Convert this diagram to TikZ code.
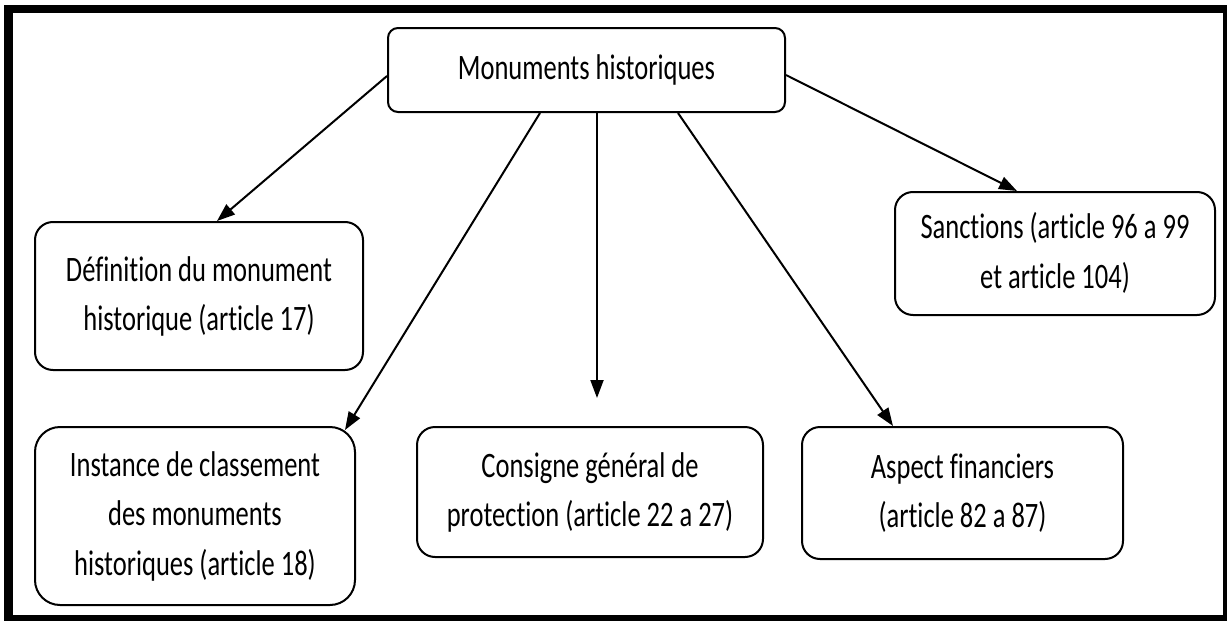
\documentclass[tikz,border=0pt]{standalone}
\usepackage{fontspec}
\setmainfont{Carlito}[Ligatures={NoCommon}]
\usetikzlibrary{arrows.meta}
\newcommand{\boxtext}[1]{\scalebox{1}[1.35]{\begin{tabular}{@{}c@{}}#1\end{tabular}}}
\begin{document}
\begin{tikzpicture}[x=1pt,y=-1pt,
  box/.style={draw, line width=2pt, rounded corners=18pt, inner sep=0pt, align=center,
    font=\fontsize{26.5}{37}\selectfont},
  arr/.style={line width=2pt, -{Triangle[length=18pt,width=13pt]}}]
% background and frame
\fill[white] (0,0) rectangle (1227,621);
\fill[black] (4,5) rectangle (1227,621);
\fill[white] (13,13) rectangle (1223,615);
\useasboundingbox (0,0) rectangle (1227,621);
% nodes
\node[box, rounded corners=10pt, minimum width=397pt, minimum height=84pt] (top) at (586.5,70) {\boxtext{Monuments historiques}};
\node[box, minimum width=328pt, minimum height=148pt] (def) at (199,296) {\boxtext{Définition du monument\\historique (article 17)}};
\node[box, minimum width=320pt, minimum height=123pt] (sanc) at (1055,253.5) {\boxtext{Sanctions (article 96 a 99\\et article 104)}};
\node[box, rounded corners=25pt, minimum width=320pt, minimum height=178pt] (inst) at (195,516) {\boxtext{Instance de classement\\des monuments\\historiques (article 18)}};
\node[box, minimum width=346pt, minimum height=130pt] (cons) at (590,492) {\boxtext{Consigne général de\\protection (article 22 a 27)}};
\node[box, minimum width=321pt, minimum height=132pt] (asp) at (962.5,493) {\boxtext{Aspect financiers\\(article 82 a 87)}};
\coordinate (vend) at (597,398);
% connectors
\draw[arr] ([yshift=-6pt]top.west) -- ([xshift=18pt]def.north);
\draw[arr] ([xshift=-46.5pt]top.south) -- ([xshift=150pt,yshift=-4pt]inst.north);
\draw[arr] ([xshift=10.5pt]top.south) -- (vend);
\draw[arr] ([xshift=91.5pt]top.south) -- ([xshift=-69.5pt]asp.north);
\draw[arr] ([yshift=-5pt]top.east) -- ([xshift=-38pt]sanc.north);
\end{tikzpicture}
\end{document}
